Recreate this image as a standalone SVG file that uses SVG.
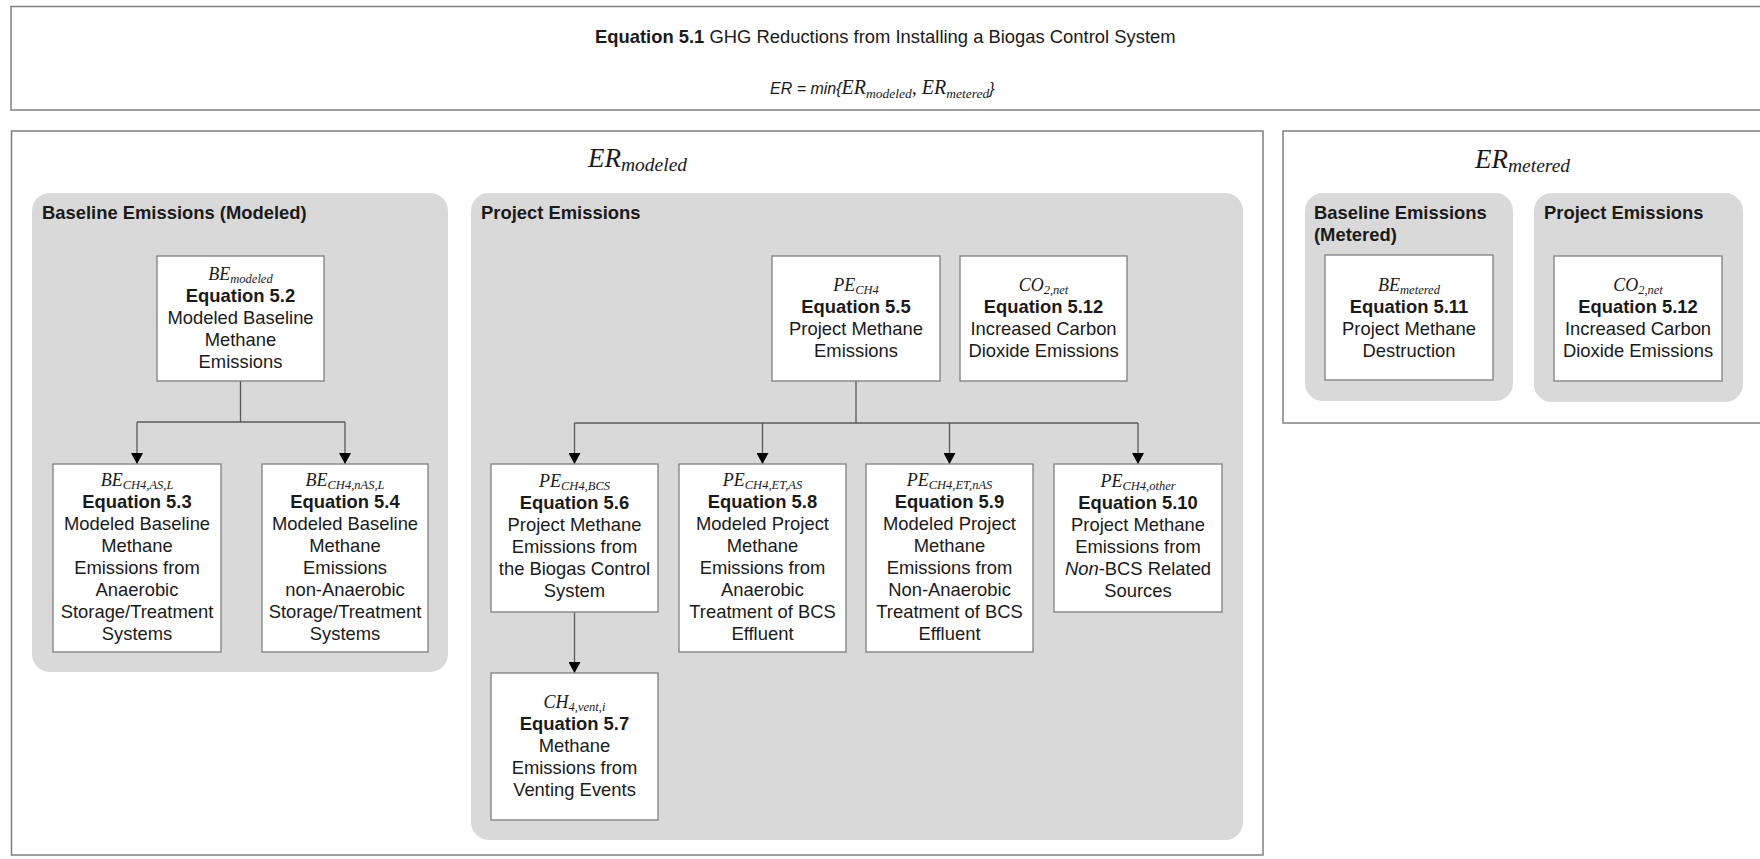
<svg xmlns="http://www.w3.org/2000/svg" width="1760" height="859" viewBox="0 0 1760 859">
<style>
.outer{fill:#fff;stroke:#7f7f7f;stroke-width:1.5}
.grp{fill:#d9d9d9}
.box{fill:#fff;stroke:#7f7f7f;stroke-width:1.3}
.t{font-family:"Liberation Sans",Arial,sans-serif;font-size:18.4px;fill:#1a1a1a;text-anchor:middle}
.h{font-family:"Liberation Sans",Arial,sans-serif;font-size:18.4px;font-weight:bold;fill:#1a1a1a}
.b{font-weight:bold}
.m{font-family:"Liberation Serif","Times New Roman",serif;font-style:italic;font-size:18px;fill:#1a1a1a;text-anchor:middle}
.sub{font-size:12.5px}
.big{font-family:"Liberation Serif","Times New Roman",serif;font-style:italic;font-size:27px;fill:#1a1a1a}
.bigsub{font-size:19.5px}
.conn{stroke:#595959;stroke-width:1.3;fill:none}
.arr{marker-end:url(#ah)}
</style>
<defs>
<marker id="ah" viewBox="0 0 11 12" refX="11" refY="6" markerWidth="11" markerHeight="12" markerUnits="userSpaceOnUse" orient="auto">
<path d="M0,0 L11,6 L0,12 z" fill="#000"/>
</marker>
</defs>

<g id="header">
<rect class="outer" x="11" y="6.5" width="1760" height="103.5"/>
<text x="595" y="43" style="font-family:'Liberation Sans',Arial,sans-serif;font-size:18.4px;fill:#1a1a1a"><tspan font-weight="bold">Equation 5.1</tspan> GHG Reductions from Installing a Biogas Control System</text>
<text x="770" y="94" style="font-family:'Liberation Sans',Arial,sans-serif;font-size:16px;font-style:italic;fill:#1a1a1a">ER = min{<tspan style="font-family:'Liberation Serif',serif;font-size:20px">ER<tspan font-size="13.5" dy="3.5">modeled</tspan><tspan dy="-3.5">,  ER</tspan><tspan font-size="13.5" dy="3.5">metered</tspan></tspan><tspan dy="-3.5">}</tspan></text>
</g>

<g id="er-modeled">
<rect class="outer" x="11.5" y="131" width="1251.5" height="724"/>
<text class="big" x="588" y="167">ER<tspan class="bigsub" dy="4">modeled</tspan></text>
</g>

<g id="er-metered">
<rect class="outer" x="1283" y="131" width="490" height="292"/>
<text class="big" x="1475" y="168">ER<tspan class="bigsub" dy="4">metered</tspan></text>
</g>

<g id="baseline-modeled-group">
<rect class="grp" x="32" y="193" width="416" height="479" rx="18"/>
<text class="h" x="42" y="219">Baseline Emissions (Modeled)</text>
</g>

<g id="project-group">
<rect class="grp" x="471" y="193" width="772" height="647" rx="18"/>
<text class="h" x="481" y="219">Project Emissions</text>
</g>

<g id="baseline-metered-group">
<rect class="grp" x="1305" y="193" width="208" height="208" rx="18"/>
<text class="h" x="1314" y="219">Baseline Emissions</text>
<text class="h" x="1314" y="241">(Metered)</text>
</g>

<g id="project-metered-group">
<rect class="grp" x="1534" y="193" width="209" height="209" rx="18"/>
<text class="h" x="1544" y="219">Project Emissions</text>
</g>

<g id="connectors">
<path class="conn" d="M240.5,381 V422 M137,422 H345"/>
<path class="conn arr" d="M137,422 V464"/>
<path class="conn arr" d="M345,422 V464"/>
<path class="conn" d="M856,381 V423 M574.5,423 H1138"/>
<path class="conn arr" d="M574.5,423 V464"/>
<path class="conn arr" d="M762.5,423 V464"/>
<path class="conn arr" d="M949.5,423 V464"/>
<path class="conn arr" d="M1138,423 V464"/>
<path class="conn arr" d="M574.5,612 V673"/>
</g>

<g id="eq52">
<rect class="box" x="157" y="256" width="167" height="125"/>
<text class="m" x="240.5" y="279.5">BE<tspan class="sub" dy="3">modeled</tspan></text>
<text class="t b" x="240.5" y="301.5">Equation 5.2</text>
<text class="t" x="240.5" y="323.5">Modeled Baseline</text>
<text class="t" x="240.5" y="345.5">Methane</text>
<text class="t" x="240.5" y="367.5">Emissions</text>
</g>

<g id="eq53">
<rect class="box" x="53" y="464" width="168" height="188"/>
<text class="m" x="137" y="486">BE<tspan class="sub" dy="3">CH4,AS,L</tspan></text>
<text class="t b" x="137" y="508">Equation 5.3</text>
<text class="t" x="137" y="530">Modeled Baseline</text>
<text class="t" x="137" y="552">Methane</text>
<text class="t" x="137" y="574">Emissions from</text>
<text class="t" x="137" y="596">Anaerobic</text>
<text class="t" x="137" y="618">Storage/Treatment</text>
<text class="t" x="137" y="640">Systems</text>
</g>

<g id="eq54">
<rect class="box" x="262" y="464" width="166" height="188"/>
<text class="m" x="345" y="486">BE<tspan class="sub" dy="3">CH4,nAS,L</tspan></text>
<text class="t b" x="345" y="508">Equation 5.4</text>
<text class="t" x="345" y="530">Modeled Baseline</text>
<text class="t" x="345" y="552">Methane</text>
<text class="t" x="345" y="574">Emissions</text>
<text class="t" x="345" y="596">non-Anaerobic</text>
<text class="t" x="345" y="618">Storage/Treatment</text>
<text class="t" x="345" y="640">Systems</text>
</g>

<g id="eq55">
<rect class="box" x="772" y="256" width="168" height="125"/>
<text class="m" x="856" y="291">PE<tspan class="sub" dy="3">CH4</tspan></text>
<text class="t b" x="856" y="313">Equation 5.5</text>
<text class="t" x="856" y="335">Project Methane</text>
<text class="t" x="856" y="357">Emissions</text>
</g>

<g id="eq512">
<rect class="box" x="960" y="256" width="167" height="125"/>
<text class="m" x="1043.5" y="291">CO<tspan class="sub" dy="3">2,net</tspan></text>
<text class="t b" x="1043.5" y="313">Equation 5.12</text>
<text class="t" x="1043.5" y="335">Increased Carbon</text>
<text class="t" x="1043.5" y="357">Dioxide Emissions</text>
</g>

<g id="eq56">
<rect class="box" x="491" y="464" width="167" height="148"/>
<text class="m" x="574.5" y="487">PE<tspan class="sub" dy="3">CH4,BCS</tspan></text>
<text class="t b" x="574.5" y="509">Equation 5.6</text>
<text class="t" x="574.5" y="531">Project Methane</text>
<text class="t" x="574.5" y="553">Emissions from</text>
<text class="t" x="574.5" y="575">the Biogas Control</text>
<text class="t" x="574.5" y="597">System</text>
</g>

<g id="eq58">
<rect class="box" x="679" y="464" width="167" height="188"/>
<text class="m" x="762.5" y="486">PE<tspan class="sub" dy="3">CH4,ET,AS</tspan></text>
<text class="t b" x="762.5" y="508">Equation 5.8</text>
<text class="t" x="762.5" y="530">Modeled Project</text>
<text class="t" x="762.5" y="552">Methane</text>
<text class="t" x="762.5" y="574">Emissions from</text>
<text class="t" x="762.5" y="596">Anaerobic</text>
<text class="t" x="762.5" y="618">Treatment of BCS</text>
<text class="t" x="762.5" y="640">Effluent</text>
</g>

<g id="eq59">
<rect class="box" x="866" y="464" width="167" height="188"/>
<text class="m" x="949.5" y="486">PE<tspan class="sub" dy="3">CH4,ET,nAS</tspan></text>
<text class="t b" x="949.5" y="508">Equation 5.9</text>
<text class="t" x="949.5" y="530">Modeled Project</text>
<text class="t" x="949.5" y="552">Methane</text>
<text class="t" x="949.5" y="574">Emissions from</text>
<text class="t" x="949.5" y="596">Non-Anaerobic</text>
<text class="t" x="949.5" y="618">Treatment of BCS</text>
<text class="t" x="949.5" y="640">Effluent</text>
</g>

<g id="eq510">
<rect class="box" x="1054" y="464" width="168" height="148"/>
<text class="m" x="1138" y="487">PE<tspan class="sub" dy="3">CH4,other</tspan></text>
<text class="t b" x="1138" y="509">Equation 5.10</text>
<text class="t" x="1138" y="531">Project Methane</text>
<text class="t" x="1138" y="553">Emissions from</text>
<text class="t" x="1138" y="575"><tspan font-style="italic">Non</tspan>-BCS Related</text>
<text class="t" x="1138" y="597">Sources</text>
</g>

<g id="eq57">
<rect class="box" x="491" y="673" width="167" height="147"/>
<text class="m" x="574.5" y="707.5">CH<tspan class="sub" dy="3">4,vent,i</tspan></text>
<text class="t b" x="574.5" y="729.5">Equation 5.7</text>
<text class="t" x="574.5" y="751.5">Methane</text>
<text class="t" x="574.5" y="773.5">Emissions from</text>
<text class="t" x="574.5" y="795.5">Venting Events</text>
</g>

<g id="eq511">
<rect class="box" x="1325" y="255" width="168" height="125"/>
<text class="m" x="1409" y="290.5">BE<tspan class="sub" dy="3">metered</tspan></text>
<text class="t b" x="1409" y="312.5">Equation 5.11</text>
<text class="t" x="1409" y="334.5">Project Methane</text>
<text class="t" x="1409" y="356.5">Destruction</text>
</g>

<g id="eq512m">
<rect class="box" x="1554" y="256" width="168" height="125"/>
<text class="m" x="1638" y="291">CO<tspan class="sub" dy="3">2,net</tspan></text>
<text class="t b" x="1638" y="313">Equation 5.12</text>
<text class="t" x="1638" y="335">Increased Carbon</text>
<text class="t" x="1638" y="357">Dioxide Emissions</text>
</g>
</svg>
